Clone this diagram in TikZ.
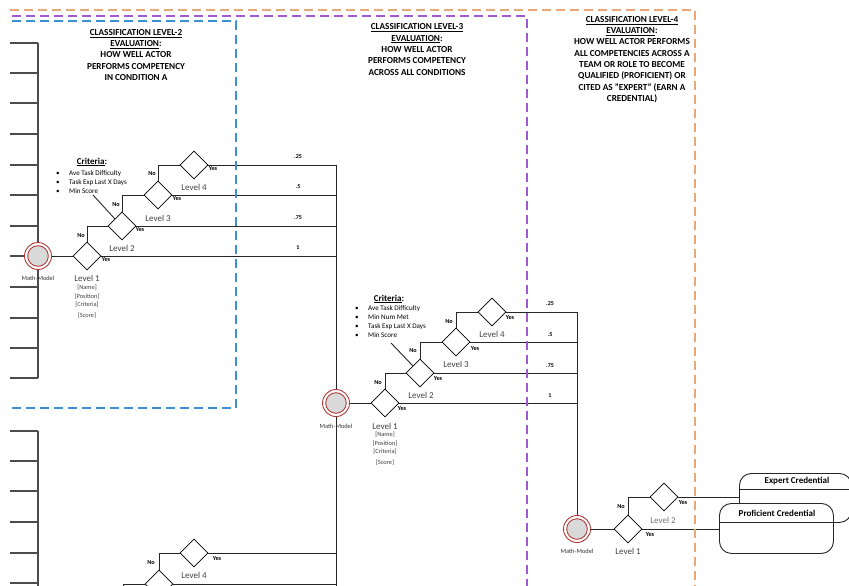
\documentclass[tikz,border=0pt]{standalone}
\usepackage{fontspec}
\setmainfont{Carlito}
\usetikzlibrary{shapes.geometric}
\definecolor{dorange}{HTML}{E8A878}
\definecolor{dpurple}{HTML}{A05AD0}
\definecolor{dblue}{HTML}{3C8FD6}
\definecolor{ringred}{HTML}{B03A3A}
\definecolor{levgray}{HTML}{404040}
\definecolor{mmfill}{HTML}{D9D9D9}
\begin{document}
\begin{tikzpicture}[x=1pt,y=-1pt,
  dec/.style={diamond, draw=black, line width=0.8pt, minimum width=28pt, minimum height=28pt, inner sep=0pt, fill=white},
  mm/.style={circle, draw=ringred, line width=0.9pt, fill=white, minimum size=27pt, inner sep=0pt,
     path picture={\draw[ringred, line width=0.9pt, fill=mmfill] (path picture bounding box.center) circle (10.3pt);}},
  link/.style={draw=black!85, line width=0.9pt},
  ladder/.style={draw=black!70, line width=1.1pt},
  yn/.style={font=\fontsize{6.2}{7}\selectfont\bfseries, inner sep=0pt},
  lev/.style={font=\fontsize{9}{10}\selectfont, text=levgray, inner sep=0pt},
  lev2/.style={font=\fontsize{9}{10}\selectfont, text=black!55, inner sep=0pt},
  val/.style={font=\fontsize{6}{7}\selectfont\bfseries, inner sep=0pt},
  info/.style={font=\fontsize{6.4}{7}\selectfont, text=levgray, inner sep=0pt},
  ttl/.style={font=\fontsize{9.2}{11.3}\selectfont\bfseries, align=center, inner sep=0pt},
  crith/.style={font=\fontsize{9}{10}\selectfont\bfseries, inner sep=0pt},
  critl/.style={font=\fontsize{7.1}{9}\selectfont, align=left, inner sep=0pt, anchor=west},
  cred/.style={draw=black!85, line width=0.9pt, rounded corners=12pt, fill=white, inner sep=0pt, anchor=north west},
  credt/.style={font=\fontsize{9}{10}\selectfont\bfseries, inner sep=0pt},
  dsh/.style={line width=1.25pt, dash pattern=on 9pt off 5pt}
]
\useasboundingbox (0,0) rectangle (849,586);
\clip (0,0) rectangle (849,586);

% ---------- left ladders (drawn first, behind circles) ----------
\draw[ladder] (38,43) -- (38,378);
\foreach \yy in {43,73,103,134,165,195,226,256,287,318,348,378}
  \draw[ladder] (10,\yy) -- (38,\yy);
\draw[ladder] (38,431) -- (38,590);
\foreach \yy in {431,461,491,522,553,583}
  \draw[ladder] (10,\yy) -- (38,\yy);

% ---------- group A (level 2) ----------
\coordinate (rA) at (336,165);
\coordinate (rAbot) at (336,590);
\draw[link] (rA) -- (rAbot);
\node[mm] (mA) at (38,256) {};
\node[dec] (a1) at (87,256) {};
\node[dec] (a2) at (122,226) {};
\node[dec] (a3) at (158,195) {};
\node[dec] (a4) at (194,165) {};
\draw[link] (mA) -- (a1);
\foreach \d in {a1,a2,a3,a4} \draw[link] (\d.east) -- (\d.east -| rA);
\draw[link] (a1.north) |- (a2.west);
\draw[link] (a2.north) |- (a3.west);
\draw[link] (a3.north) |- (a4.west);

\node[yn] (nA1) at (81,236) {No};
\node[yn] (nA2) at (116,205) {No};
\node[yn] (nA3) at (152,174) {No};
\node[yn] (yA1) at (106,260) {Yes};
\node[yn] (yA2) at (140,230) {Yes};
\node[yn] (yA3) at (177,199) {Yes};
\node[yn] (yA4) at (213,169) {Yes};
\node[lev] (lA1) at (87,278) {Level 1};
\node[lev] (lA2) at (122,248) {Level 2};
\node[lev] (lA3) at (158,218) {Level 3};
\node[lev] (lA4) at (194,187) {Level 4};
\node[info] (iA1) at (87,288) {[Name]};
\node[info] (iA2) at (87,297) {[Position]};
\node[info] (iA3) at (87,305) {[Criteria]};
\node[info] (iA4) at (87,316) {[Score]};
\node[info, text=black!80] (mmA) at (38,278) {Math-Model};
\node[val] (vA1) at (298,157) {.25};
\node[val] (vA2) at (298,187) {.5};
\node[val] (vA3) at (298,218) {.75};
\node[val] (vA4) at (298,248) {1};
\node[crith] (chA) at (92,162) {\underline{Criteria}:};
\node[critl] (clA) at (56,182) {\makebox[13pt][l]{\textbullet}Ave Task Difficulty\\\makebox[13pt][l]{\textbullet}Task Exp Last X Days\\\makebox[13pt][l]{\textbullet}Min Score};
\coordinate (pA) at (93,195);
\draw[link] (pA) -- (a2.north west);

% ---------- group D (bottom partial) ----------
\node[dec] (d4) at (194,553) {};
\node[dec] (d3) at (159,584) {};
\coordinate (d2b) at (123,592);
\draw[link] (d4.east) -- (d4.east -| rA);
\draw[link] (d3.east) -- (d3.east -| rA);
\draw[link] (d3.north) |- (d4.west);
\draw[link] (d2b) |- (d3.west);
\node[yn] (nD3) at (151,563) {No};
\node[yn] (yD4) at (217,559) {Yes};
\node[lev] (lD4) at (194,575) {Level 4};

% ---------- group B (level 3) ----------
\coordinate (rB) at (577,312);
\node[mm] (mB) at (336,403) {};
\node[dec] (b1) at (385,403) {};
\node[dec] (b2) at (420,373) {};
\node[dec] (b3) at (456,342) {};
\node[dec] (b4) at (492,312) {};
\draw[link] (mB) -- (b1);
\foreach \d in {b1,b2,b3,b4} \draw[link] (\d.east) -- (\d.east -| rB);
\draw[link] (b1.north) |- (b2.west);
\draw[link] (b2.north) |- (b3.west);
\draw[link] (b3.north) |- (b4.west);
\node[yn] (nB1) at (378,383) {No};
\node[yn] (nB2) at (413,351) {No};
\node[yn] (nB3) at (449,322) {No};
\node[yn] (yB1) at (402,409) {Yes};
\node[yn] (yB2) at (438,379) {Yes};
\node[yn] (yB3) at (475,349) {Yes};
\node[yn] (yB4) at (510,318) {Yes};
\node[lev] (lB1) at (385,426) {Level 1};
\node[lev] (lB2) at (421,395) {Level 2};
\node[lev] (lB3) at (456,364) {Level 3};
\node[lev] (lB4) at (492,334) {Level 4};
\node[info] (iB1) at (385,435) {[Name]};
\node[info] (iB2) at (385,444) {[Position]};
\node[info] (iB3) at (385,452) {[Criteria]};
\node[info] (iB4) at (385,463) {[Score]};
\node[info, text=black!80] (mmB) at (336,426) {Math-Model};
\node[val] (vB1) at (550,304) {.25};
\node[val] (vB2) at (550,335) {.5};
\node[val] (vB3) at (550,366) {.75};
\node[val] (vB4) at (550,396) {1};
\node[crith] (chB) at (389,299) {\underline{Criteria}:};
\node[critl] (clB) at (355,322) {\makebox[13pt][l]{\textbullet}Ave Task Difficulty\\\makebox[13pt][l]{\textbullet}Min Num Met\\\makebox[13pt][l]{\textbullet}Task Exp Last X Days\\\makebox[13pt][l]{\textbullet}Min Score};
\coordinate (pB) at (391,343);
\draw[link] (pB) -- (b2.north west);

% ---------- group C (level 4) ----------
\node[mm] (mC) at (577,529) {};
\draw[link] (rB) -- (mC.north);
\node[dec] (c1) at (628,529) {};
\node[dec] (c2) at (664,497) {};
\draw[link] (mC) -- (c1);
\draw[link] (c1.north) |- (c2.west);
\node[yn] (nC1) at (621,507) {No};
\node[yn] (yC1) at (650,535) {Yes};
\node[yn] (yC2) at (683,503) {Yes};
\node[lev2] (lC2) at (663,520) {Level 2};
\node[lev] (lC1) at (628,551) {Level 1};
\node[info, text=black!80] (mmC) at (577,551) {Math-Model};

\node[cred, minimum width=112pt, minimum height=49pt] (exp) at (739,473) {};
\draw[link] ([yshift=-16pt]exp.north west) -- ([yshift=-16pt]exp.north east);
\node[credt] (expt) at (797,481) {Expert Credential};
\node[cred, minimum width=114pt, minimum height=50pt] (prof) at (719,503) {};
\draw[link] ([yshift=-19pt]prof.north west) -- ([yshift=-19pt]prof.north east);
\node[credt] (proft) at (777,513) {Proficient Credential};
\draw[link] (c2.east) -- (c2.east -| exp.west);
\draw[link] (c1.east) -- (c1.east -| prof.west);

% ---------- titles ----------
\node[ttl] (t2) at (136,55) {\underline{CLASSIFICATION LEVEL-2}\\\underline{EVALUATION}:\\HOW WELL ACTOR\\PERFORMS COMPETENCY\\IN CONDITION A};
\node[ttl] (t3) at (417,49.5) {\underline{CLASSIFICATION LEVEL-3}\\\underline{EVALUATION}:\\HOW WELL ACTOR\\PERFORMS COMPETENCY\\ACROSS ALL CONDITIONS};
\node[ttl] (t4) at (632,59.5) {\underline{CLASSIFICATION LEVEL-4}\\\underline{EVALUATION}:\\HOW WELL ACTOR PERFORMS\\ALL COMPETENCIES ACROSS A\\TEAM OR ROLE TO BECOME\\QUALIFIED (PROFICIENT) OR\\CITED AS "EXPERT" (EARN A\\CREDENTIAL)};

% ---------- dashed region boundaries ----------
\draw[dsh, dorange] (10,10) -- (695,10) -- (695,590);
\draw[dsh, dpurple] (12,16) -- (527,16) -- (527,590);
\draw[dsh, dblue] (12,21) -- (236,21) -- (236,408) -- (12,408);
\end{tikzpicture}
\end{document}
